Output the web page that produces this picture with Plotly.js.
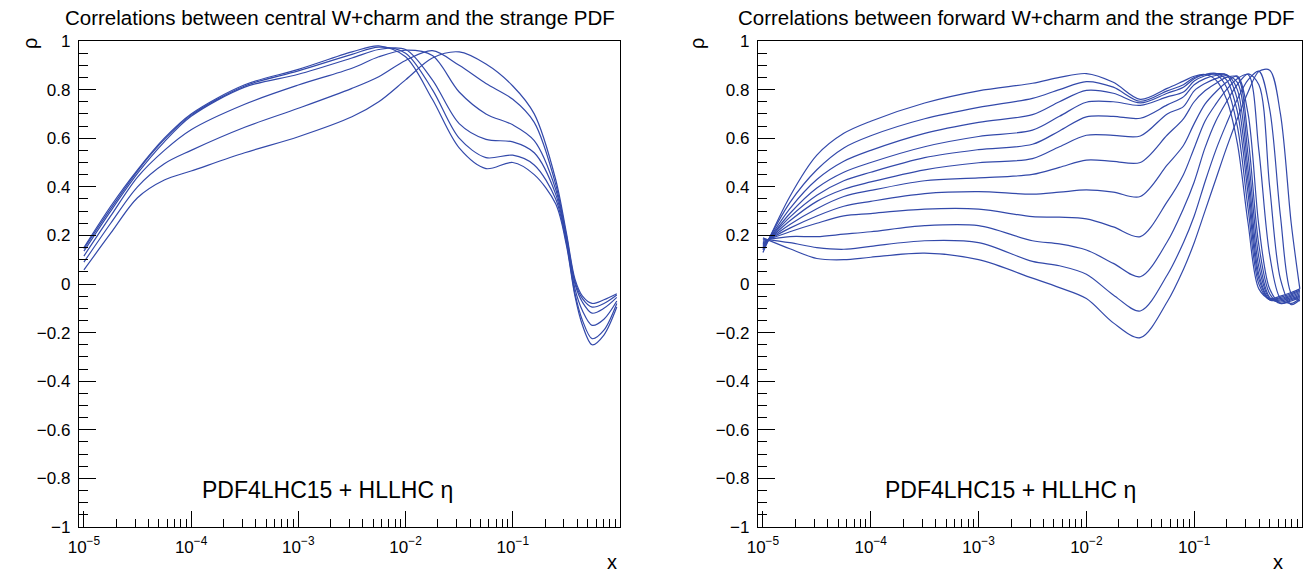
<!DOCTYPE html>
<html>
<head>
<meta charset="utf-8">
<script src="https://cdn.plot.ly/plotly-3.0.1.min.js"></script>
<style>html,body{margin:0;padding:0;background:#fff;}#chart{width:1308px;height:574px;}</style>
</head>
<body>
<div id="chart"></div>
<script>
// ---------- DATA ----------
const xLeft = [1e-5, 1.778e-5, 3.162e-5, 5.623e-5, 1e-4, 3.162e-4, 1e-3, 3.162e-3, 5.623e-3, 1e-2, 1.778e-2, 3.162e-2, 5.623e-2, 0.1, 0.1585, 0.2512, 0.3162, 0.3802, 0.4467, 0.5495, 0.7079, 0.9333];
const centralA = [0.15, 0.32, 0.47, 0.60, 0.70, 0.82, 0.883, 0.955, 0.98, 0.935, 0.76, 0.56, 0.475, 0.50, 0.45, 0.33, 0.16, -0.05, -0.17, -0.25, -0.21, -0.095];
const centralB = [0.145, 0.31, 0.465, 0.595, 0.695, 0.815, 0.877, 0.945, 0.975, 0.95, 0.80, 0.60, 0.52, 0.53, 0.49, 0.35, 0.17, -0.04, -0.15, -0.225, -0.19, -0.08];
const centralC = [0.135, 0.30, 0.455, 0.585, 0.69, 0.81, 0.863, 0.93, 0.965, 0.965, 0.84, 0.66, 0.595, 0.585, 0.54, 0.37, 0.18, -0.02, -0.11, -0.17, -0.145, -0.07];
const centralD = [0.115, 0.28, 0.44, 0.55, 0.635, 0.74, 0.819, 0.888, 0.935, 0.962, 0.94, 0.79, 0.70, 0.655, 0.59, 0.39, 0.19, 0.0, -0.075, -0.12, -0.10, -0.055];
const centralE = [0.09, 0.25, 0.40, 0.495, 0.55, 0.645, 0.723, 0.805, 0.853, 0.92, 0.96, 0.90, 0.825, 0.76, 0.665, 0.41, 0.20, 0.01, -0.06, -0.095, -0.08, -0.045];
const centralF = [0.058, 0.209, 0.355, 0.428, 0.465, 0.54, 0.606, 0.688, 0.75, 0.84, 0.93, 0.955, 0.905, 0.815, 0.70, 0.43, 0.21, 0.02, -0.05, -0.08, -0.065, -0.04];

const xRight = [1e-5, 1.778e-5, 3.162e-5, 5.623e-5, 1e-4, 3.162e-4, 1e-3, 3.162e-3, 5.623e-3, 1e-2, 1.778e-2, 3.162e-2, 5.623e-2, 7.943e-2, 0.1, 0.1259, 0.1585, 0.1995, 0.2512, 0.3162, 0.3981, 0.5012, 0.6310, 0.7943, 0.9550];
const forward01 = [0.13, 0.36, 0.53, 0.62, 0.67, 0.745, 0.795, 0.826, 0.85, 0.866, 0.83, 0.76, 0.805, 0.835, 0.855, 0.862, 0.84, 0.76, 0.58, 0.25, -0.02, -0.06, -0.05, -0.035, -0.02];
const forward02 = [0.14, 0.335, 0.47, 0.56, 0.61, 0.68, 0.727, 0.764, 0.80, 0.833, 0.81, 0.752, 0.795, 0.82, 0.85, 0.862, 0.863, 0.81, 0.65, 0.31, 0.0, -0.065, -0.055, -0.04, -0.025];
const forward03 = [0.145, 0.31, 0.43, 0.505, 0.55, 0.62, 0.665, 0.697, 0.75, 0.797, 0.785, 0.745, 0.785, 0.81, 0.845, 0.862, 0.867, 0.84, 0.71, 0.37, 0.02, -0.065, -0.06, -0.045, -0.03];
const forward04 = [0.15, 0.29, 0.395, 0.46, 0.50, 0.565, 0.607, 0.633, 0.69, 0.748, 0.75, 0.735, 0.77, 0.79, 0.835, 0.857, 0.865, 0.86, 0.76, 0.42, 0.04, -0.065, -0.065, -0.05, -0.035];
const forward05 = [0.155, 0.275, 0.365, 0.425, 0.46, 0.52, 0.553, 0.575, 0.63, 0.688, 0.69, 0.682, 0.737, 0.77, 0.82, 0.845, 0.858, 0.862, 0.80, 0.47, 0.07, -0.06, -0.07, -0.055, -0.04];
const forward06 = [0.16, 0.26, 0.34, 0.39, 0.42, 0.47, 0.499, 0.516, 0.565, 0.612, 0.612, 0.609, 0.70, 0.73, 0.795, 0.825, 0.845, 0.857, 0.83, 0.53, 0.11, -0.055, -0.075, -0.06, -0.045];
const forward07 = [0.165, 0.245, 0.31, 0.36, 0.385, 0.425, 0.437, 0.451, 0.48, 0.51, 0.505, 0.50, 0.613, 0.68, 0.75, 0.795, 0.825, 0.85, 0.852, 0.60, 0.16, -0.04, -0.08, -0.065, -0.05];
const forward08 = [0.17, 0.23, 0.28, 0.32, 0.34, 0.372, 0.38, 0.37, 0.378, 0.387, 0.378, 0.36, 0.49, 0.57, 0.66, 0.74, 0.79, 0.83, 0.856, 0.70, 0.24, -0.02, -0.08, -0.07, -0.055];
const forward09 = [0.175, 0.215, 0.25, 0.28, 0.29, 0.308, 0.308, 0.277, 0.275, 0.268, 0.235, 0.195, 0.339, 0.45, 0.56, 0.67, 0.74, 0.80, 0.845, 0.862, 0.55, 0.12, -0.06, -0.08, -0.06];
const forward10 = [0.18, 0.195, 0.195, 0.205, 0.215, 0.24, 0.24, 0.178, 0.165, 0.14, 0.085, 0.03, 0.174, 0.31, 0.42, 0.56, 0.67, 0.75, 0.82, 0.865, 0.82, 0.40, 0.02, -0.085, -0.065];
const forward11 = [0.185, 0.17, 0.15, 0.143, 0.155, 0.178, 0.17, 0.093, 0.075, 0.04, -0.045, -0.111, 0.037, 0.17, 0.28, 0.42, 0.55, 0.66, 0.76, 0.84, 0.876, 0.72, 0.28, -0.04, -0.07];
const forward12 = [0.19, 0.145, 0.105, 0.10, 0.11, 0.127, 0.10, 0.024, -0.015, -0.06, -0.16, -0.221, -0.073, 0.06, 0.17, 0.30, 0.43, 0.56, 0.68, 0.79, 0.875, 0.88, 0.70, 0.25, -0.02];

const xTickVals = [1e-5, 1e-4, 1e-3, 1e-2, 1e-1];
const xTickText = ['10<sup>\u22125</sup>', '10<sup>\u22124</sup>', '10<sup>\u22123</sup>', '10<sup>\u22122</sup>', '10<sup>\u22121</sup>'];
const yTickVals = [-1, -0.8, -0.6, -0.4, -0.2, 0, 0.2, 0.4, 0.6, 0.8, 1];
const yTickText = ['\u22121', '\u22120.8', '\u22120.6', '\u22120.4', '\u22120.2', '0', '0.2', '0.4', '0.6', '0.8', '1'];

const titleLeft = 'Correlations between central W+charm and the strange PDF';
const titleRight = 'Correlations between forward W+charm and the strange PDF';
const labelText = 'PDF4LHC15 + HLLHC \u03b7';

// ---------- BUILD ----------
const W = 1308, H = 574;
const px = v => v / W;
const py = v => 1 - v / H;
const lineColor = '#3349aa';
const FONT = 'Liberation Sans, Arial, sans-serif';

const minorX = [];
for (const d of xTickVals.concat([1])) {
  for (let k = 2; k <= 9; k++) { if (d * k < 1) minorX.push(d * k); }
}

const traces = [];
[centralA, centralB, centralC, centralD, centralE, centralF].forEach(ys => {
  traces.push({x: xLeft, y: ys, xaxis: 'x', yaxis: 'y', type: 'scatter', mode: 'lines',
    line: {color: lineColor, width: 1.2, shape: 'spline', smoothing: 0.9}, hoverinfo: 'skip', showlegend: false});
});
[forward01, forward02, forward03, forward04, forward05, forward06, forward07, forward08, forward09, forward10, forward11, forward12].forEach(ys => {
  traces.push({x: xRight, y: ys, xaxis: 'x2', yaxis: 'y2', type: 'scatter', mode: 'lines',
    line: {color: lineColor, width: 1.2, shape: 'spline', smoothing: 0.9}, hoverinfo: 'skip', showlegend: false});
});

function xAxis(domain, anchor) {
  return {
    domain: domain, anchor: anchor, type: 'log', range: [Math.log10(9e-6), 0],
    showline: true, linecolor: '#000', linewidth: 1.2, mirror: true,
    ticks: 'inside', ticklen: 16, tickwidth: 1, tickcolor: '#000',
    tickmode: 'array', tickvals: xTickVals, ticktext: xTickText,
    tickfont: {family: FONT, size: 17, color: '#000'}, ticklabelstandoff: 4,
    showgrid: false, zeroline: false,
    minor: {tickmode: 'array', tickvals: minorX, ticks: 'inside', ticklen: 8, tickwidth: 1, tickcolor: '#000', showgrid: false}
  };
}
function yAxis(anchor) {
  return {
    domain: [py(527), py(41)], anchor: anchor, range: [-1, 1],
    showline: true, linecolor: '#000', linewidth: 1.2, mirror: true,
    ticks: 'inside', ticklen: 17, tickwidth: 1, tickcolor: '#000',
    tickmode: 'array', tickvals: yTickVals, ticktext: yTickText,
    tickfont: {family: FONT, size: 17, color: '#000'}, ticklabelstandoff: 4,
    showgrid: false, zeroline: false,
    minor: {tickmode: 'linear', tick0: 0, dtick: 0.05, ticks: 'inside', ticklen: 9, tickwidth: 1, tickcolor: '#000', showgrid: false}
  };
}

const ann = (text, x, y, size, extra) => Object.assign({
  text: text, x: px(x), y: py(y), xref: 'paper', yref: 'paper', showarrow: false,
  xanchor: 'center', yanchor: 'middle', font: {family: FONT, size: size, color: '#000'}
}, extra || {});

const layout = {
  width: W, height: H, margin: {l: 0, r: 0, t: 0, b: 0},
  paper_bgcolor: '#fff', plot_bgcolor: '#fff', showlegend: false,
  xaxis: xAxis([px(79), px(620)], 'y'),
  yaxis: yAxis('x'),
  xaxis2: xAxis([px(758), px(1302)], 'y2'),
  yaxis2: yAxis('x2'),
  annotations: [
    ann(titleLeft, 340, 18, 20.5),
    ann(titleRight, 1016, 18, 20.5),
    ann('\u03c1', 30, 44, 20, {textangle: -90}),
    ann('\u03c1', 697, 44, 20, {textangle: -90}),
    ann('x', 612, 562, 20),
    ann('x', 1278, 562, 20),
    ann(labelText, 328, 490, 23),
    ann(labelText, 1010, 490, 23)
  ]
};

Plotly.newPlot('chart', traces, layout, {staticPlot: true, displayModeBar: false});
</script>
</body>
</html>
